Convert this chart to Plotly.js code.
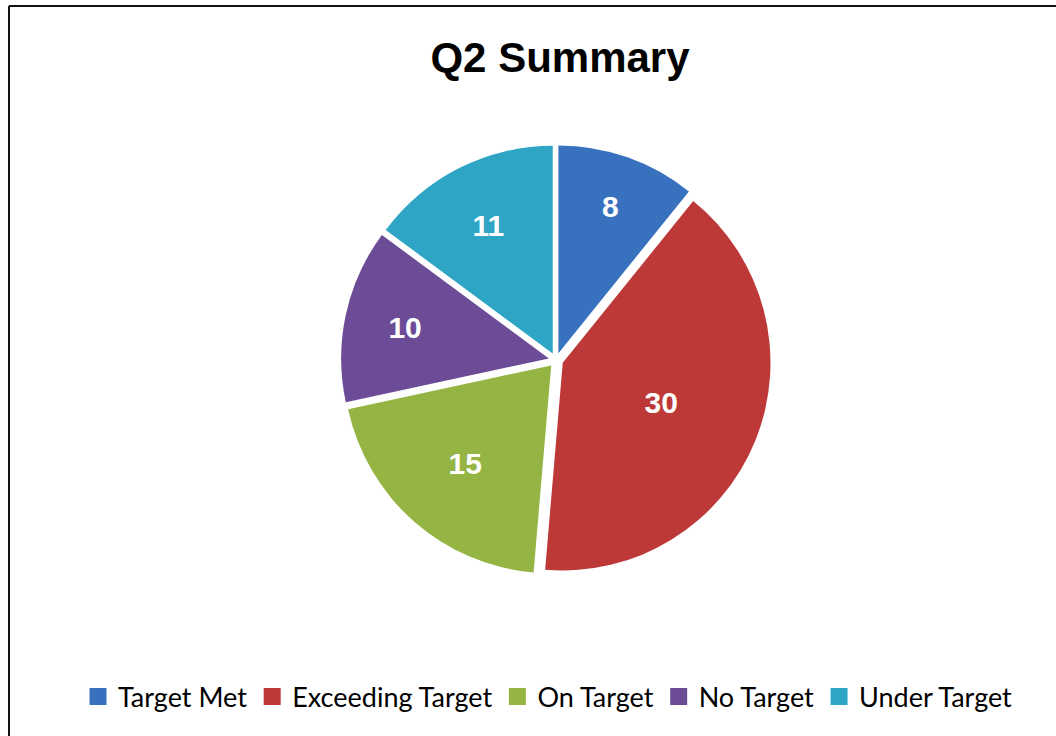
<!DOCTYPE html>
<html>
<head>
<meta charset="utf-8">
<script src="https://cdn.plot.ly/plotly-3.0.1.min.js"></script>
<style>
html,body{margin:0;padding:0;overflow:hidden;background:#fff;}
#chart{width:1056px;height:736px;}
</style>
</head>
<body>
<div id="chart"></div>
<script>
const categories = ["Target Met", "Exceeding Target", "On Target", "No Target", "Under Target"];
const values = [8, 30, 15, 10, 11];
const colors = ["#3872BF", "#BD3937", "#94B543", "#6C4C96", "#2FA5C5"];

const W = 1056, H = 736;
function px(x){return x / W;}
function py(y){return 1 - y / H;}

const trace = {
  type: "pie",
  labels: categories,
  values: values,
  sort: false,
  direction: "clockwise",
  rotation: 0,
  pull: [0.035, 0.035, 0.035, 0.035, 0.035],
  marker: {colors: colors, line: {color: "#ffffff", width: 0}},
  textinfo: "value",
  textposition: "inside",
  insidetextorientation: "horizontal",
  textfont: {family: "Liberation Sans, Arial, sans-serif", size: 30, color: "#ffffff", weight: "bold"},
  hoverinfo: "label+value",
  domain: {x: [px(340), px(772)], y: [py(575), py(145)]}
};

const layout = {
  width: W, height: H,
  margin: {l: 0, r: 0, t: 0, b: 0},
  paper_bgcolor: "#ffffff",
  uniformtext: {mode: "show", minsize: 30},
  title: {
    text: "<b>Q2 Summary</b>",
    font: {family: "Liberation Sans, Arial, sans-serif", size: 42, color: "#000000"},
    x: px(560), xanchor: "center",
    y: py(57), yanchor: "middle"
  },
  showlegend: true,
  legend: {
    orientation: "h",
    x: px(548), xanchor: "center",
    y: py(697), yanchor: "middle",
    font: {family: "Lato, Open Sans, sans-serif", size: 27, color: "#000000"},
    traceorder: "normal",
    itemwidth: 30
  },
  shapes: [
    {type: "line", xref: "paper", yref: "paper", x0: px(9), x1: px(9), y0: py(6), y1: py(740), line: {color: "#111", width: 2}},
    {type: "line", xref: "paper", yref: "paper", x0: px(9), x1: px(1060), y0: py(6), y1: py(6), line: {color: "#111", width: 2}}
  ]
};

Plotly.newPlot("chart", [trace], layout, {displayModeBar: false, staticPlot: true}).then(function(gd){
  // enlarge legend swatches to match the reference's bigger squares
  gd.querySelectorAll(".legendpoints path").forEach(function(p){
    p.setAttribute("d", "M8.5,8.5H-8.5V-8.5H8.5Z");
  });
});
</script>
</body>
</html>
